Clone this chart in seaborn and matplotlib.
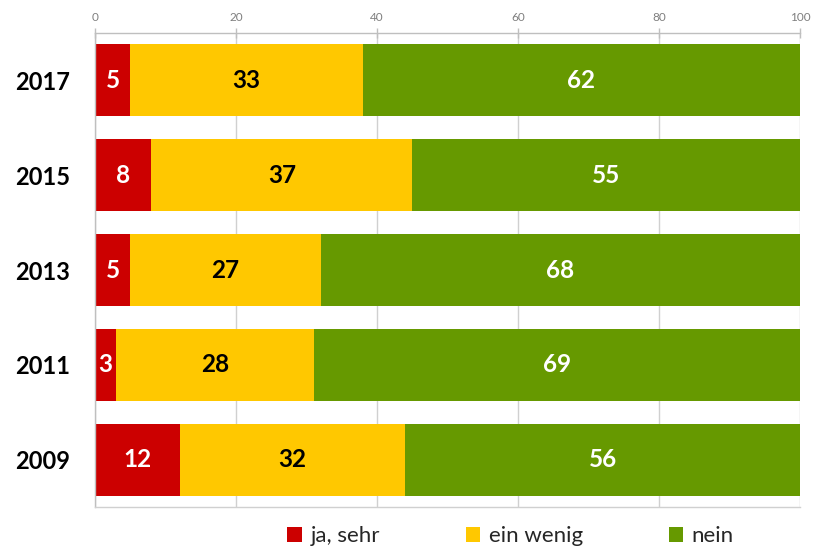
import matplotlib
matplotlib.use("Agg")
import matplotlib.pyplot as plt
import seaborn as sns
import pandas as pd
import numpy as np
from matplotlib.patches import Patch

years = ["2017", "2015", "2013", "2011", "2009"]
ja_sehr = [5, 8, 5, 3, 12]
ein_wenig = [33, 37, 27, 28, 32]
nein = [62, 55, 68, 69, 56]
series_names = ["ja, sehr", "ein wenig", "nein"]
colors = ["#CC0000", "#FFC800", "#669900"]
x_ticks = [0, 20, 40, 60, 80, 100]

sns.set_theme(style="white")
plt.rcParams["font.family"] = ["Lato", "DejaVu Sans"]

df = pd.DataFrame({"year": years, "ja": ja_sehr, "ein": ein_wenig, "nein": nein})
df["c1"] = df["ja"]
df["c2"] = df["ja"] + df["ein"]
df["c3"] = df["ja"] + df["ein"] + df["nein"]

fig = plt.figure(figsize=(8.13, 5.51), dpi=100)
ax = fig.add_axes([95/813, 1 - 507/551, 705/813, 474/551])

for col, c in zip(["c3", "c2", "c1"], colors[::-1]):
    sns.barplot(data=df, x=col, y="year", order=years, color=c, width=0.76,
                orient="h", ax=ax, saturation=1, edgecolor="none", linewidth=0)

ax.set_xlim(0, 100)
ax.set_ylim(len(years) - 0.5, -0.5)
ax.set_xlabel("")
ax.set_ylabel("")
ax.xaxis.tick_top()
ax.set_xticks(x_ticks)
ax.set_xticklabels([str(t) for t in x_ticks], fontsize=8.5, color="#7f7f7f")
ax.tick_params(axis="x", which="major", direction="inout", length=7, width=1,
               color="#bfbfbf", pad=4)
ax.set_axisbelow(True)
ax.grid(axis="x", color="#d0d0d0", linewidth=1)
ax.grid(axis="y", visible=False)

ax.set_yticks(range(len(years)))
ax.set_yticklabels(years, fontsize=17, fontweight="bold", color="#000000")
ax.tick_params(axis="y", which="major", length=0, pad=18)
ax.set_yticks(np.arange(-0.5, len(years), 1), minor=True)
ax.tick_params(axis="y", which="minor", direction="out", length=6, width=1, color="#bfbfbf")

for s in ax.spines.values():
    s.set_color("#bfbfbf")
    s.set_linewidth(1)
ax.spines["right"].set_visible(False)
ax.spines["bottom"].set_color("#d0d0d0")

for i in range(len(years)):
    vals = [ja_sehr[i], ein_wenig[i], nein[i]]
    left = 0
    for j, v in enumerate(vals):
        tc = "black" if j == 1 else "white"
        ax.text(left + v / 2, i, str(v), ha="center", va="center",
                fontsize=17.5, fontweight="bold", color=tc)
        left += v

handles = [Patch(facecolor=c, edgecolor="none") for c in colors]
fig.legend(handles, series_names, loc="center", bbox_to_anchor=(0.628, 0.027),
           ncol=3, frameon=False, fontsize=16, handlelength=0.65, handleheight=0.65,
           handletextpad=0.4, columnspacing=3.85)

fig.savefig("out.png", dpi=100)
